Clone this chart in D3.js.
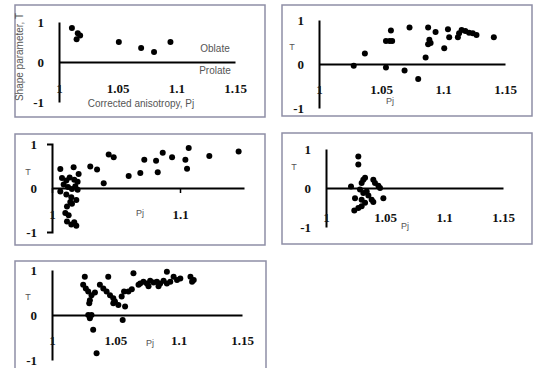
<!DOCTYPE html>
<html>
<head>
<meta charset="utf-8">
<script src="https://cdn.jsdelivr.net/npm/d3@7"></script>
<style>
  html, body { margin: 0; padding: 0; background: #fff; }
  svg { display: block; }
</style>
</head>
<body>
<svg id="chart" width="533" height="368"></svg>
<script>
// ---------- data ----------
const xTickValues = [1, 1.05, 1.1, 1.15];
const xTickLabels = ["1", "1.05", "1.1", "1.15"];
const panel3XTickValues = [1, 1.1];
const yTickValues = [1, 0, -1];
const yTickLabels = ["1", "0", "-1"];

const panel1Pj = [1.011, 1.016, 1.015, 1.018, 1.051, 1.070, 1.081, 1.095];
const panel1T  = [0.85, 0.72, 0.57, 0.66, 0.50, 0.35, 0.25, 0.50];

const panel2Pj = [1.028, 1.037, 1.054, 1.058, 1.054, 1.057, 1.059, 1.073, 1.069, 1.080, 1.086, 1.088, 1.089, 1.090, 1.088, 1.094, 1.101, 1.104, 1.105, 1.112, 1.113, 1.115, 1.118, 1.121, 1.124, 1.127, 1.141];
const panel2T  = [-0.04, 0.24, -0.08, 0.76, 0.52, 0.52, 0.52, 0.83, -0.15, -0.34, 0.15, 0.83, 0.55, 0.48, 0.45, 0.73, 0.36, 0.79, 0.61, 0.61, 0.70, 0.77, 0.75, 0.71, 0.70, 0.66, 0.61];

const panel3Pj = [1.0065, 1.0169, 1.0208, 1.0078, 1.0112, 1.0138, 1.0174, 1.0200, 1.0091, 1.0125, 1.0156, 1.0182, 1.0200, 1.0065, 1.0112, 1.0151, 1.0190, 1.0143, 1.0117, 1.0156, 1.0104, 1.0130, 1.0117, 1.0151, 1.0190, 1.0174, 1.0299, 1.0352, 1.0443, 1.0482, 1.0404, 1.0599, 1.0690, 1.0721, 1.0813, 1.0826, 1.0865, 1.0938, 1.1042, 1.1055, 1.1068, 1.1229, 1.1458];
const panel3T  = [0.43, 0.47, 0.32, 0.23, 0.17, 0.24, 0.19, 0.14, 0.08, 0.02, -0.02, 0.04, -0.04, -0.08, -0.15, -0.21, -0.27, -0.32, -0.42, -0.36, -0.57, -0.62, -0.76, -0.83, -0.86, -0.78, 0.49, 0.42, 0.76, 0.70, 0.11, 0.27, 0.34, 0.64, 0.62, 0.36, 0.80, 0.70, 0.64, 0.44, 0.91, 0.73, 0.83];

const panel4Pj = [1.0274, 1.0274, 1.0316, 1.0331, 1.0302, 1.0212, 1.0401, 1.0415, 1.0444, 1.0458, 1.0288, 1.0316, 1.0345, 1.0359, 1.0246, 1.0302, 1.0331, 1.0387, 1.0401, 1.0486, 1.0240, 1.0274, 1.0302];
const panel4T  = [0.81, 0.60, 0.21, 0.26, 0.13, 0.04, 0.21, 0.13, 0.06, 0.00, -0.04, -0.13, -0.09, -0.19, -0.26, -0.30, -0.38, -0.30, -0.36, -0.26, -0.58, -0.51, -0.47];

const panel5Pj = [1.0259, 1.0444, 1.0643, 1.0907, 1.0246, 1.0267, 1.0286, 1.0312, 1.0339, 1.0299, 1.0294, 1.0378, 1.0405, 1.0431, 1.0458, 1.0484, 1.0497, 1.0524, 1.0484, 1.0550, 1.0569, 1.0603, 1.0630, 1.0577, 1.0286, 1.0299, 1.0312, 1.0558, 1.0325, 1.0352, 1.0696, 1.0722, 1.0749, 1.0775, 1.0802, 1.0828, 1.0854, 1.0881, 1.0934, 1.0960, 1.0987, 1.1013, 1.1093, 1.1106, 1.1119, 1.0683, 1.0762, 1.0841, 1.0907];
const panel5T  = [0.85, 0.85, 0.93, 0.96, 0.67, 0.59, 0.52, 0.44, 0.50, 0.33, 0.26, 0.67, 0.59, 0.52, 0.44, 0.37, 0.30, 0.22, 0.26, 0.41, 0.52, 0.52, 0.57, 0.19, 0.00, -0.07, 0.00, -0.11, -0.33, -0.85, 0.70, 0.74, 0.70, 0.76, 0.72, 0.74, 0.70, 0.76, 0.74, 0.85, 0.78, 0.81, 0.85, 0.74, 0.78, 0.67, 0.64, 0.64, 0.70];

// ---------- layout ----------
const panels = [
  { pj: panel1Pj, t: panel1T, box: [15, 5, 250, 112], x0: 59, x1: 235, yTop: 22, yBot: 102, labY: 88, ticks: xTickValues, pjLabel: null, tLabel: null, first: true },
  { pj: panel2Pj, t: panel2T, box: [282, 5, 250, 111], x0: 319, x1: 505, yTop: 20, yBot: 108, labY: 89, ticks: xTickValues, pjLabel: [390, 101], tLabel: [292, 47] },
  { pj: panel3Pj, t: panel3T, box: [15, 134, 250, 111], x0: 52, x1: 244, yTop: 144, yBot: 232, labY: 214, ticks: panel3XTickValues, pjLabel: [140, 213], tLabel: [28, 172], outer: 5, tickLen: 5 },
  { pj: panel4Pj, t: panel4T, box: [282, 133, 250, 111], x0: 326, x1: 503, yTop: 149, yBot: 227, labY: 217, ticks: xTickValues, pjLabel: [405, 226], tLabel: [294, 167] },
  { pj: panel5Pj, t: panel5T, box: [15, 261, 251, 120], x0: 52, x1: 242, yTop: 270, yBot: 360, labY: 340, ticks: xTickValues, pjLabel: [150, 343], tLabel: [28, 297] }
];

const svg = d3.select("#chart");
const tickFont = "'Liberation Serif', 'DejaVu Serif', serif";
const labelFont = "'Liberation Sans', Arial, sans-serif";

panels.forEach(p => {
  const g = svg.append("g");
  g.append("rect")
    .attr("x", p.box[0]).attr("y", p.box[1])
    .attr("width", p.box[2]).attr("height", p.box[3])
    .attr("fill", "#fff").attr("stroke", "#8e8ea6").attr("stroke-width", 1.5);

  const x = d3.scaleLinear().domain([1, 1.15]).range([p.x0, p.x1]);
  const y = d3.scaleLinear().domain([-1, 1]).range([p.yBot, p.yTop]);

  // y axis
  const yAxis = d3.axisLeft(y)
    .tickValues(yTickValues)
    .tickFormat((d, i) => yTickLabels[i])
    .tickSize(0)
    .tickSizeOuter(p.outer || 0)
    .tickPadding(15);
  const ya = g.append("g").attr("transform", `translate(${p.x0},0)`).call(yAxis);
  ya.select(".domain").attr("stroke", "#000").attr("stroke-width", 2);
  ya.selectAll("text")
    .attr("font-family", tickFont).attr("font-weight", "bold")
    .attr("font-size", 13).attr("fill", "#111");

  // x axis at T = 0
  const xAxis = d3.axisBottom(x)
    .tickValues(p.ticks)
    .tickFormat(d => xTickLabels[xTickValues.indexOf(d)])
    .tickSize(p.tickLen || 0)
    .tickSizeOuter(0);
  const xa = g.append("g").attr("transform", `translate(0,${y(0)})`).call(xAxis);
  xa.select(".domain").attr("stroke", "#000").attr("stroke-width", 2);
  xa.selectAll(".tick line").attr("stroke", "#000").attr("stroke-width", 1.5);
  xa.selectAll("text")
    .attr("y", p.labY - y(0)).attr("dy", "0.35em")
    .attr("font-family", tickFont).attr("font-weight", "bold")
    .attr("font-size", 13).attr("fill", "#111");

  // points
  g.append("g").selectAll("circle")
    .data(p.pj.map((v, i) => [v, p.t[i]]))
    .join("circle")
    .attr("cx", d => x(d[0])).attr("cy", d => y(d[1]))
    .attr("r", 3).attr("fill", "#000");

  const small = (txt, xy, size) => g.append("text")
    .attr("x", xy[0]).attr("y", xy[1]).attr("dy", "0.35em")
    .attr("text-anchor", "middle")
    .attr("font-family", labelFont).attr("font-size", size || 9)
    .attr("fill", "#555").text(txt);

  if (p.pjLabel) small("Pj", p.pjLabel);
  if (p.tLabel) small("T", p.tLabel);

  if (p.first) {
    small("Oblate", [215, 48], 10);
    small("Prolate", [215, 70], 10);
    small("Corrected anisotropy, Pj", [141, 103], 10);
    g.append("text")
      .attr("transform", "translate(19,57) rotate(-90)")
      .attr("dy", "0.35em").attr("text-anchor", "middle")
      .attr("font-family", labelFont).attr("font-size", 10)
      .attr("fill", "#555").text("Shape parameter, T");
  }
});
</script>
</body>
</html>
